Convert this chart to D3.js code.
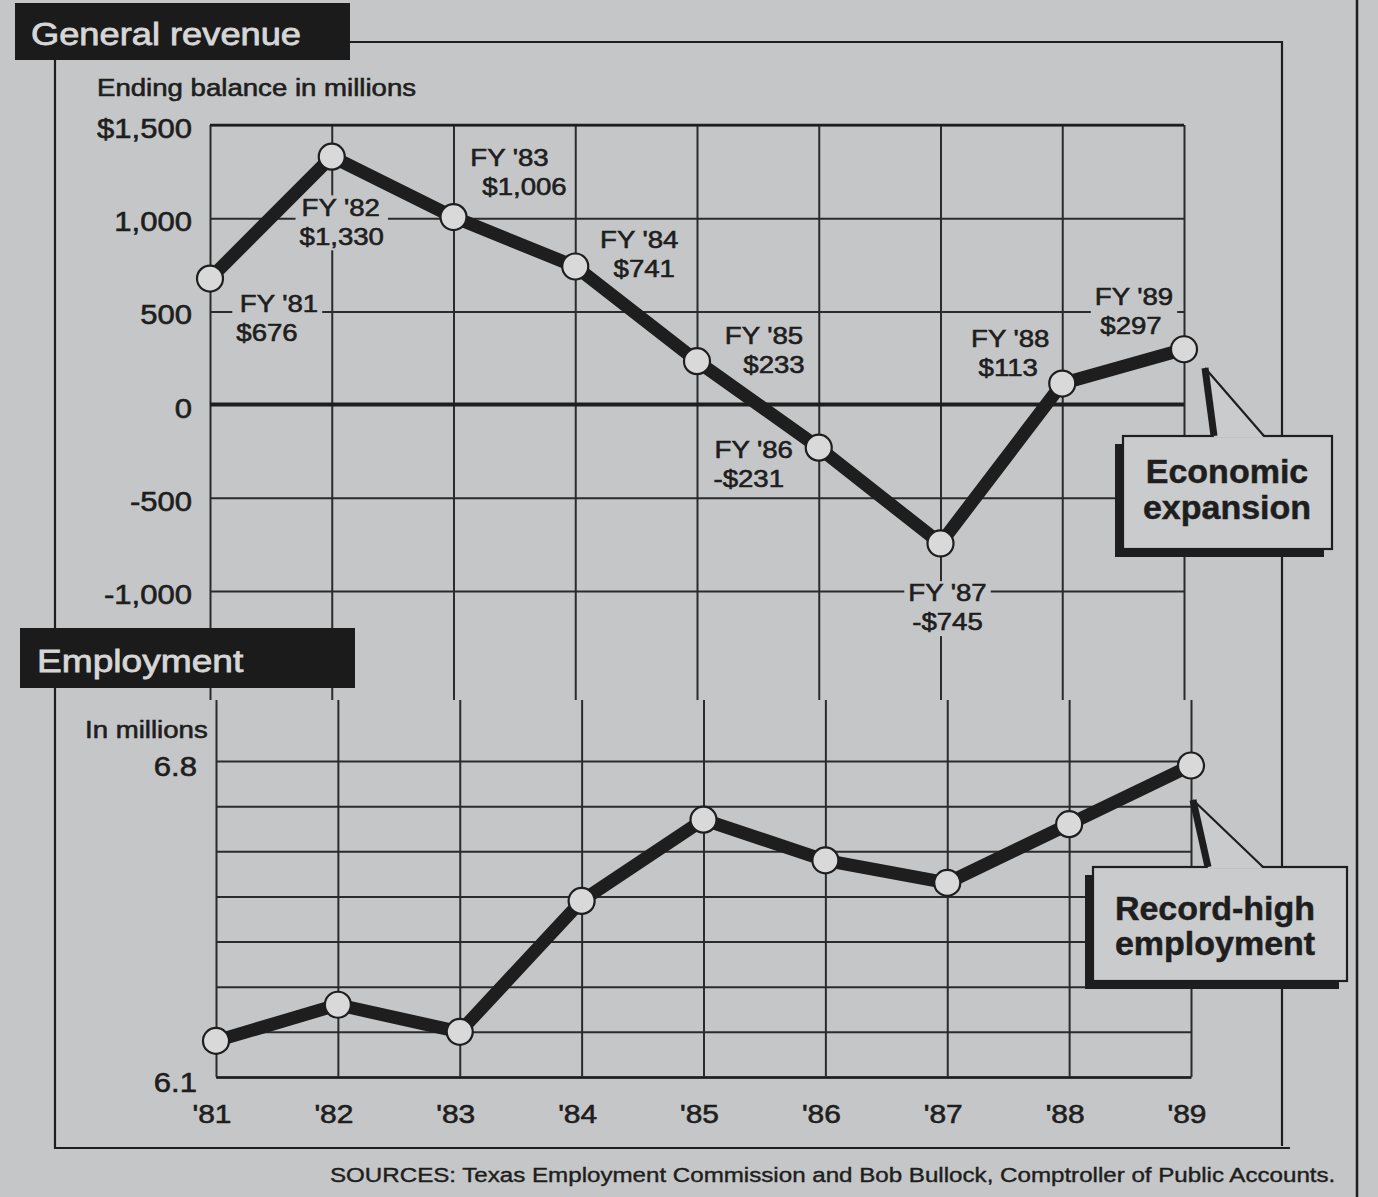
<!DOCTYPE html>
<html>
<head>
<meta charset="utf-8">
<script src="https://cdn.jsdelivr.net/npm/d3@7"></script>
<style>
  html,body{margin:0;padding:0;background:#c5c6c7;}
  svg{display:block;}
  text{font-family:"Liberation Sans",Arial,Helvetica,sans-serif;}
</style>
</head>
<body>
<svg id="chart" width="1378" height="1197"></svg>
<script>
// ---------- data ----------
const years = ["'81","'82","'83","'84","'85","'86","'87","'88","'89"];
const fiscalLabels = ["FY '81","FY '82","FY '83","FY '84","FY '85","FY '86","FY '87","FY '88","FY '89"];
const revenue = [676, 1330, 1006, 741, 233, -231, -745, 113, 297];
const revenueText = ["$676","$1,330","$1,006","$741","$233","-$231","-$745","$113","$297"];
const employment = [6.18, 6.26, 6.20, 6.49, 6.67, 6.58, 6.53, 6.66, 6.79];
const revTicks = [1500, 1000, 500, 0, -500, -1000];
const revTickLabels = ["$1,500","1,000","500","0","-500","-1,000"];
const empTicks = [6.1, 6.2, 6.3, 6.4, 6.5, 6.6, 6.7, 6.8];
const empTickLabels = ["6.1","","","","","","","6.8"];

// ---------- layout (label offsets from their points: dx, dy, second-line dx) ----------
const labelOffsets = [[69,25,-12],[9,51,1],[56,-59,15],[64,-26,5],[67,-25,10],[-65,2,-5],[7,50,0],[-52,-45,-2],[-50,-52,-3]];

const BG = "#c5c6c7", INK = "#1e1e1e", GRID = "#2b2b2b", DOT = "#d9d9d9", BOX = "#cacbcc";
const SX = 1.15;

const svg = d3.select("#chart");
svg.append("rect").attr("width",1378).attr("height",1197).attr("fill",BG);

const xTop = d3.scalePoint().domain(years).range([210, 1184]);
const xBot = d3.scalePoint().domain(years).range([216, 1191]);
const yRev = d3.scaleLinear().domain([-1000, 1500]).range([591, 125]);
const yEmp = d3.scaleLinear().domain([6.1, 6.8]).range([1077, 761]);

function T(sel, x, y, s, o) {
  o = o || {};
  const fill = o.fill || INK;
  const t = sel.append("text")
    .attr("transform", `translate(${x},${y}) scale(${o.sx == null ? SX : o.sx},1)`)
    .attr("text-anchor", o.anchor || "start")
    .attr("font-size", o.size || 24)
    .attr("font-weight", o.weight || "normal")
    .attr("fill", fill)
    .attr("stroke", fill).attr("stroke-width", o.sw == null ? 0.6 : o.sw)
    .text(s);
  return t;
}

// ---------- outer frame ----------
const frame = svg.append("g").attr("fill","none").attr("stroke",INK).attr("stroke-width",2.2);
frame.append("path").attr("d","M350,42 H1282 V1146");
frame.append("path").attr("d","M55,60 V1148 H1290");
svg.append("line").attr("x1",1357).attr("x2",1357).attr("y1",0).attr("y2",1197)
  .attr("stroke",INK).attr("stroke-width",2.5);

// ---------- grids ----------
function styleAxis(g){
  g.selectAll(".tick line").attr("stroke",GRID).attr("stroke-width",2);
  g.selectAll(".tick text").remove();
}
svg.append("g").attr("transform","translate(210,0)")
  .call(d3.axisLeft(yRev).tickValues(revTicks).tickSize(-(1184-210)).tickSizeOuter(0).tickFormat(""))
  .call(g=>g.select(".domain").remove()).call(styleAxis);
svg.append("g").attr("transform","translate(0,125)")
  .call(d3.axisTop(xTop).tickSize(-(700-125)).tickSizeOuter(0).tickFormat(""))
  .call(g=>g.select(".domain").remove()).call(styleAxis);
svg.append("g").attr("transform","translate(216,0)")
  .call(d3.axisLeft(yEmp).tickValues(empTicks).tickSize(-(1191-216)).tickSizeOuter(0).tickFormat(""))
  .call(g=>g.select(".domain").remove()).call(styleAxis);
svg.append("g").attr("transform","translate(0,1077)")
  .call(d3.axisBottom(xBot).tickSize(-(1077-700)).tickSizeOuter(0).tickFormat(""))
  .call(g=>g.select(".domain").attr("stroke",INK).attr("stroke-width",2.6))
  .call(styleAxis);
svg.append("line").attr("x1",xTop.range()[0]).attr("x2",xTop.range()[1])
  .attr("y1",yRev(1500)).attr("y2",yRev(1500)).attr("stroke",INK).attr("stroke-width",2.6);
svg.append("line").attr("x1",xTop.range()[0]).attr("x2",xTop.range()[1])
  .attr("y1",yRev(0)).attr("y2",yRev(0)).attr("stroke",INK).attr("stroke-width",4);

// ---------- title boxes ----------
svg.append("rect").attr("x",15).attr("y",3).attr("width",335).attr("height",57).attr("fill","#1b1b1b");
T(svg, 31, 45, "General revenue", {size:31, fill:"#d6d6d6", sx:1.17, sw:0.8});
svg.append("rect").attr("x",20).attr("y",628).attr("width",335).attr("height",60).attr("fill","#1b1b1b");
T(svg, 37, 672, "Employment", {size:32, fill:"#d6d6d6", sx:1.16, sw:0.8});

T(svg, 97, 96, "Ending balance in millions", {size:24});
T(svg, 85, 738, "In millions", {size:24});

// ---------- tick labels ----------
revTicks.forEach((v,i)=>T(svg, 192, yRev(v)+13, revTickLabels[i], {size:27, anchor:"end"}));
empTicks.forEach((v,i)=>{ if(empTickLabels[i]) T(svg, 197, yEmp(v)+15, empTickLabels[i], {size:27, anchor:"end"}); });
years.forEach(y=>T(svg, xBot(y)-4, 1123, y, {size:26, anchor:"middle"}));

// ---------- value labels with gridline knockouts (below the data lines) ----------
const lab = svg.append("g");
revenue.forEach((v,i)=>{
  const px = xTop(years[i]), py = yRev(v);
  const [dx, dy, dx2] = labelOffsets[i];
  const cx = px + dx, cy = py + dy;
  const g = lab.append("g");
  const knock = g.append("rect").attr("fill", BG);
  let x0 = Infinity, x1 = -Infinity, y0 = Infinity, y1 = -Infinity;
  [[fiscalLabels[i], cx, cy+8],[revenueText[i], cx+dx2, cy+37]].forEach(([s,lx,by])=>{
    const t = T(g, lx, by, s, {size:24, anchor:"middle"});
    const b = t.node().getBBox();
    x0 = Math.min(x0, lx + b.x*SX); x1 = Math.max(x1, lx + (b.x+b.width)*SX);
    y0 = Math.min(y0, by + b.y); y1 = Math.max(y1, by + b.y + b.height);
  });
  knock.attr("x", x0-4).attr("y", y0+1).attr("width", x1-x0+8).attr("height", y1-y0);
});

// ---------- data lines ----------
const revLine = d3.line().x((d,i)=>xTop(years[i])).y(d=>yRev(d));
const empLine = d3.line().x((d,i)=>xBot(years[i])).y(d=>yEmp(d));
svg.append("path").attr("d",revLine(revenue)).attr("fill","none").attr("stroke",INK)
  .attr("stroke-width",13).attr("stroke-linejoin","round");
svg.append("path").attr("d",empLine(employment)).attr("fill","none").attr("stroke",INK)
  .attr("stroke-width",13).attr("stroke-linejoin","round");

svg.append("g").selectAll("circle").data(revenue).join("circle")
  .attr("cx",(d,i)=>xTop(years[i])).attr("cy",d=>yRev(d)).attr("r",13)
  .attr("fill",DOT).attr("stroke",INK).attr("stroke-width",2.2);
svg.append("g").selectAll("circle").data(employment).join("circle")
  .attr("cx",(d,i)=>xBot(years[i])).attr("cy",d=>yEmp(d)).attr("r",13)
  .attr("fill",DOT).attr("stroke",INK).attr("stroke-width",2.2);

// ---------- callouts ----------
function callout(bx, by, bw, bh, apex, baseL, baseR, lines, tx, bases){
  const g = svg.append("g");
  g.append("rect").attr("x",bx-8).attr("y",by+8).attr("width",bw).attr("height",bh).attr("fill",INK);
  g.append("rect").attr("x",bx).attr("y",by).attr("width",bw).attr("height",bh)
    .attr("fill",BOX).attr("stroke",INK).attr("stroke-width",2.2);
  g.append("path").attr("d",`M${apex[0]},${apex[1]} L${baseL},${by+1.5} L${baseR},${by+1.5} Z`).attr("fill",BOX);
  g.append("line").attr("x1",apex[0]).attr("y1",apex[1]).attr("x2",baseL).attr("y2",by)
    .attr("stroke",INK).attr("stroke-width",7);
  g.append("line").attr("x1",apex[0]).attr("y1",apex[1]).attr("x2",baseR).attr("y2",by)
    .attr("stroke",INK).attr("stroke-width",2.2);
  lines.forEach((s,k)=>T(g, tx, bases[k], s, {size:34, weight:"bold", anchor:"middle", sx:1.0, sw:0.5}));
}
callout(1123, 436, 209, 113, [1205,368], 1214, 1264, ["Economic","expansion"], 1227, [483, 519]);
callout(1093, 867, 254, 114, [1193,800], 1208, 1263, ["Record-high","employment"], 1215, [920, 955]);

// ---------- source ----------
T(svg, 330, 1182, "SOURCES: Texas Employment Commission and Bob Bullock, Comptroller of Public Accounts.", {size:21, sw:0.4});
</script>
</body>
</html>
